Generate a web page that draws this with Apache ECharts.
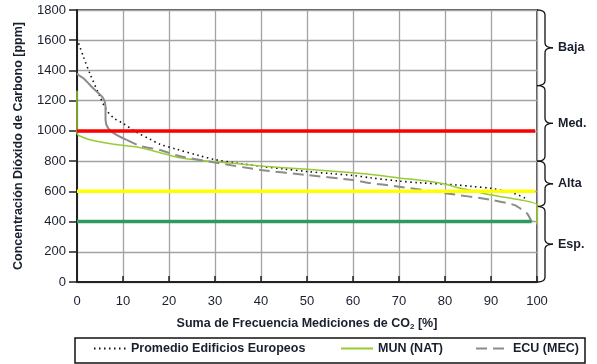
<!DOCTYPE html>
<html>
<head>
<meta charset="utf-8">
<script src="https://cdn.jsdelivr.net/npm/echarts@6/dist/echarts.min.js"></script>
<style>
html,body{margin:0;padding:0;background:#fff;}
#c{width:597px;height:364px;}
</style>
</head>
<body>
<div id="c"></div>
<script>
// ---- data ----
var seriesNames = ['Promedio Edificios Europeos', 'MUN (NAT)', 'ECU (MEC)'];
var promedio = [[0,1610],[1.4,1490],[2.8,1380],[5,1226],[6.4,1138],[8,1085],[10,1050],[13,990],[15.9,945],[18,912],[21.5,880],[26.7,835],[30,810],[35,786],[40,765],[45,748],[50,731],[55,718],[60,705],[63.7,690],[70,668],[74.3,657],[80,648],[82.6,642],[86,632],[90,620],[93,602],[95,587],[97.8,550]];
var mun = [[0,1265],[0,985],[0.5,968],[2.8,942],[6,922],[9.3,906],[13,893],[18,856],[21.7,826],[24.6,812],[30,796],[40,768],[50,746],[60,723],[65.9,705],[70,689],[76.7,665],[80.4,645],[82.6,626],[85,610],[89.8,577],[96.5,543],[100,510],[100,380]];
var ecuSolid = [[0,1380],[0.3,1370],[1.4,1348],[3.5,1282],[5.7,1216],[6.2,1160],[6.2,1072],[6.8,1017],[8.6,973],[10.8,940]];
var ecuDashed = [[10.8,940],[13.7,900],[18,874],[22.4,832],[30,790],[40,741],[50,708],[60,675],[63.7,655],[70,631],[80,588],[90,544],[95,510],[97.8,455],[98.9,395]];
var thresholdValues = [1000, 600, 400];
var thresholdEnds = [99.6, 99.6, 98.8];
var thresholdColors = ['#ff0000', '#ffff00', '#2e9a5e'];
var bands = [[1800,1300,'Baja'],[1300,800,'Med.'],[800,500,'Alta'],[500,0,'Esp.']];
var xTicks = {min:0, max:100, interval:10};
var yTicks = {min:0, max:1800, interval:200};

var FONT = 'Liberation Sans';
var TXT = '#1a1f2e';
var chart = echarts.init(document.getElementById('c'));

var series = [
  {name: seriesNames[0], type:'line', data: promedio, symbol:'none', smooth:0.3, z:3,
   lineStyle:{color:'#111', width:1.6, type:[1.5,3.5]}, itemStyle:{color:'#111'}},
  {name: seriesNames[1], type:'line', data: mun, symbol:'none', smooth:0.2, z:3,
   lineStyle:{color:'#99cc33', width:1.5}, itemStyle:{color:'#99cc33'}},
  {name: seriesNames[2], type:'line', data: ecuDashed, symbol:'none', smooth:0.2, z:3,
   lineStyle:{color:'#8c8c8c', width:2, type:[11,6]}, itemStyle:{color:'#8c8c8c'}},
  {name: seriesNames[2], type:'line', data: ecuSolid, symbol:'none', smooth:0.3, z:3,
   lineStyle:{color:'#8c8c8c', width:2}, itemStyle:{color:'#8c8c8c'}}
];
thresholdValues.forEach(function(v,i){
  series.push({type:'line', silent:true, symbol:'none', z:4,
    data:[[0,v],[thresholdEnds[i],v]],
    lineStyle:{color:thresholdColors[i], width:3.5}});
});

function legendAt(idx, left){
  return {data:[seriesNames[idx]], left:left, top:342, itemWidth:32, itemHeight:12, itemGap:5,
    padding:0, itemStyle:{opacity:0, borderWidth:0},
    textStyle:{fontFamily:FONT, fontSize:12.5, fontWeight:'bold', color:TXT}};
}

chart.setOption({
  animation:false,
  grid:{left:77, right:60, top:10, bottom:82, show:true, borderColor:'#222', borderWidth:1.5, backgroundColor:'transparent'},
  legend:[legendAt(0,93), legendAt(1,340), legendAt(2,475)],
  xAxis:{type:'value', min:xTicks.min, max:xTicks.max, interval:xTicks.interval,
    name:'Suma de Frecuencia Mediciones de CO{sub|2} [%]', nameLocation:'middle', nameGap:35,
    nameTextStyle:{fontFamily:FONT, fontSize:12.5, fontWeight:'bold', color:TXT,
      rich:{sub:{fontFamily:FONT, fontSize:8, fontWeight:'bold', color:TXT, verticalAlign:'bottom', padding:[6,0,0,0]}}},
    axisLine:{lineStyle:{color:'#222', width:2}},
    axisTick:{inside:true, length:6, lineStyle:{color:'#222', width:1.5}},
    axisLabel:{margin:13, fontFamily:FONT, fontSize:13, color:TXT, formatter:function(v){return String(v);}},
    splitLine:{lineStyle:{color:'#a3a3a3', width:1.3}}},
  yAxis:{type:'value', min:yTicks.min, max:yTicks.max, interval:yTicks.interval,
    name:'Concentración Dióxido de Carbono [ppm]', nameLocation:'middle', nameGap:52, nameRotate:90,
    nameTextStyle:{fontFamily:FONT, fontSize:12.5, fontWeight:'bold', color:TXT},
    axisLine:{lineStyle:{color:'#222', width:2}},
    axisTick:{inside:false, length:8, lineStyle:{color:'#222', width:1.5}},
    axisLabel:{margin:11, fontFamily:FONT, fontSize:13, color:TXT, formatter:function(v){return String(v);}},
    splitLine:{lineStyle:{color:'#a3a3a3', width:1.3}}},
  series: series
});

// braces and legend box, positioned through the axis scales
function quad(p0, c, p1, n, out){
  for (var i=1;i<=n;i++){
    var t=i/n, a=(1-t)*(1-t), b=2*(1-t)*t, d=t*t;
    out.push([a*p0[0]+b*c[0]+d*p1[0], a*p0[1]+b*c[1]+d*p1[1]]);
  }
}
var graphics = [];
var rightEdge = chart.convertToPixel({gridIndex:0}, [xTicks.max, 0])[0];
bands.forEach(function(b){
  var y1 = chart.convertToPixel({gridIndex:0}, [0, b[0]])[1];
  var y2 = chart.convertToPixel({gridIndex:0}, [0, b[1]])[1];
  var ym = (y1+y2)/2, x0 = rightEdge, x1 = rightEdge+8, x2 = rightEdge+16, r = 5;
  var pts = [[x0,y1]];
  quad([x0,y1],[x1,y1],[x1,y1+r],6,pts);
  pts.push([x1,ym-r]);
  quad([x1,ym-r],[x1,ym],[x2,ym],6,pts);
  var pts2 = [[x2,ym]];
  quad([x2,ym],[x1,ym],[x1,ym+r],6,pts2);
  pts2.push([x1,y2-r]);
  quad([x1,y2-r],[x1,y2],[x0,y2],6,pts2);
  graphics.push({type:'polyline', shape:{points:pts}, style:{fill:null, stroke:'#111', lineWidth:1.3}});
  graphics.push({type:'polyline', shape:{points:pts2}, style:{fill:null, stroke:'#111', lineWidth:1.3}});
  graphics.push({type:'text', x:x2+5, y:ym, style:{text:b[2], fontFamily:FONT, fontSize:12.5, fontWeight:'bold', fill:TXT, verticalAlign:'middle'}});
});
graphics.push({type:'rect', shape:{x:75, y:338, width:510, height:25}, style:{fill:null, stroke:'#111', lineWidth:1.5}, z:-1});
chart.setOption({graphic:graphics});
</script>
</body>
</html>
